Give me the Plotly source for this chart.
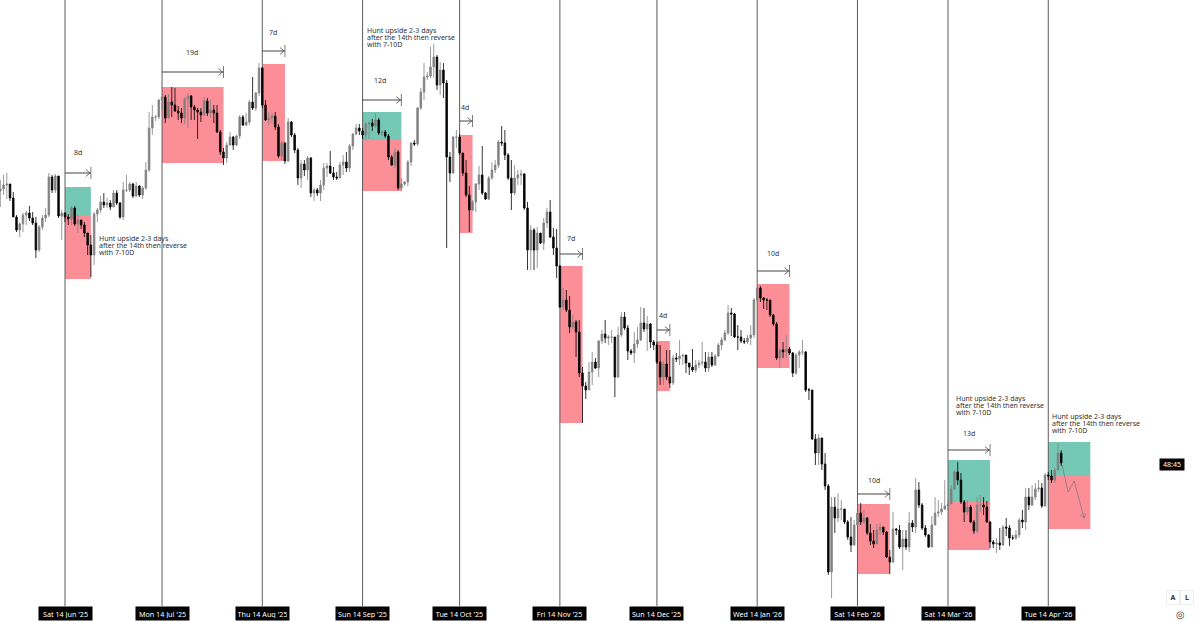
import pandas as pd
import plotly.graph_objects as go

first_day = "2025-05-25"

opens = [431,433,437,438,424,405,392,398,407,409,404,399,372,395,404,407,445,432,446,406,
         409,405,403,414,398,402,397,389,377,367,408,412,420,417,419,415,429,419,405,432,
         432,438,426,436,427,434,452,494,505,505,522,525,504,520,517,511,509,504,523,526,
         515,512,510,507,521,509,512,509,490,470,464,477,485,477,486,505,497,500,520,514,
         529,554,517,502,504,506,495,466,479,461,500,487,472,444,458,452,464,429,432,429,
         437,454,456,449,445,444,457,460,454,476,488,494,491,487,498,499,496,502,489,490,
         486,465,457,470,434,438,440,460,479,478,514,530,545,546,555,565,537,552,539,465,
         449,485,485,469,449,427,412,420,438,447,429,423,444,452,457,480,479,467,444,429,
         444,447,448,414,372,392,372,389,379,399,410,385,374,356,315,322,312,295,300,290,
         249,236,232,250,260,254,281,288,284,285,285,245,287,305,294,271,269,278,282,299,
         293,298,280,277,260,245,258,245,239,264,263,266,267,259,255,252,257,259,260,254,
         265,257,266,277,282,289,309,308,285,285,281,280,284,287,322,334,324,322,322,307,
         298,264,272,270,273,269,249,267,270,270,232,232,183,169,184,158,136,50,115,104,
         113,113,100,85,77,97,109,100,104,89,81,78,92,95,90,65,60,93,92,75,
         83,75,99,95,132,117,94,87,75,97,109,110,113,116,118,133,150,142,120,110,
         115,100,91,117,117,115,100,80,78,79,77,95,94,84,84,87,102,100,125,117,
         125,133,134,116,147,146,142,152,169]
closes = [433,437,438,424,405,392,398,407,409,404,399,372,395,404,407,445,432,446,406,409,
          405,403,414,398,402,397,389,377,367,408,412,420,417,419,415,429,419,405,432,432,
          438,426,436,427,434,452,494,505,505,522,525,504,520,517,511,509,504,523,526,515,
          512,510,507,521,509,512,509,490,470,464,477,485,477,486,505,497,500,520,514,529,
          554,517,502,504,506,495,466,479,461,500,487,472,444,458,452,464,429,432,429,437,
          454,456,449,445,444,457,460,454,476,488,494,491,487,498,499,496,502,489,490,486,
          465,457,470,434,438,440,460,479,478,514,530,545,546,555,565,537,552,539,465,449,
          485,485,469,449,427,412,420,438,447,429,423,444,452,457,480,479,467,444,429,444,
          447,448,414,372,392,372,389,379,399,410,385,374,356,315,322,312,295,300,290,249,
          236,232,250,260,254,281,288,284,285,285,245,287,305,294,271,269,278,282,299,293,
          298,280,277,260,245,258,245,239,264,263,266,267,259,255,252,257,259,260,254,265,
          257,266,277,282,289,309,308,285,285,281,280,284,287,322,334,324,322,322,307,298,
          264,272,270,273,269,249,267,270,270,232,232,183,169,184,158,136,50,115,104,113,
          113,100,85,77,97,109,100,104,89,81,78,92,95,90,65,60,93,92,75,83,
          75,99,95,132,117,94,87,75,97,109,110,113,116,118,133,150,142,120,110,115,
          100,91,117,117,115,100,80,78,79,77,95,94,84,84,87,102,100,125,117,125,
          133,134,116,147,146,142,152,169,159]
highs = [442,447,449,435,430,407,400,409,411,416,410,405,397,407,414,449,447,448,433,412,
         410,408,416,416,407,402,400,389,387,410,414,426,429,424,422,432,432,420,440,447,
         440,439,440,437,436,460,510,517,507,523,526,527,528,535,534,516,514,525,529,527,
         517,514,514,525,524,522,517,517,492,474,480,490,486,487,507,507,509,522,545,530,
         559,555,522,510,509,510,498,481,480,504,501,489,474,462,462,466,465,434,434,442,
         459,459,471,455,450,460,467,470,478,489,498,498,494,500,501,503,509,504,492,492,
         488,467,474,472,444,441,462,480,482,515,534,559,550,575,578,567,560,559,542,470,
         486,492,488,469,462,436,422,439,456,476,430,446,460,462,482,496,492,469,462,457,
         452,452,449,420,397,394,395,387,404,414,422,394,393,357,334,332,326,307,302,302,
         255,240,260,270,264,282,292,302,287,292,282,295,310,310,297,273,290,295,315,314,
         306,299,282,280,277,261,272,272,267,269,282,267,262,257,273,262,262,280,270,270,
         270,268,279,285,292,317,314,309,297,292,284,287,297,324,335,336,325,324,322,308,
         300,274,280,287,275,270,269,272,282,271,234,232,188,188,184,169,138,125,125,129,
         122,112,102,105,102,110,119,112,105,98,92,98,99,95,91,72,110,94,97,92,
         92,110,102,144,140,119,97,88,106,125,122,119,142,122,137,152,160,149,122,122,
         117,102,125,127,125,121,101,82,84,94,97,104,97,87,92,104,112,134,134,137,
         139,142,139,149,150,152,154,179,172]
lows = [415,427,423,421,405,390,385,390,397,401,397,364,370,392,400,405,429,429,404,382,
        400,397,397,396,389,393,385,367,345,357,400,409,414,414,412,420,417,403,402,430,
        430,424,425,425,423,432,450,487,501,503,512,499,504,505,510,502,499,498,494,502,
        502,483,500,507,506,504,499,489,467,457,459,476,472,476,483,496,496,497,512,511,
        526,514,501,497,498,492,464,462,458,460,485,469,437,434,446,442,425,421,426,421,
        432,445,448,442,442,444,447,450,450,472,487,487,483,482,483,491,494,487,486,484,
        462,456,454,432,431,436,436,456,476,476,512,522,542,544,544,532,527,524,374,440,
        448,474,467,446,425,390,411,410,432,427,422,422,442,449,454,476,462,442,412,427,
        437,437,412,352,352,352,354,378,372,394,384,367,344,314,312,310,289,292,265,245,
        199,223,232,237,253,245,278,279,277,279,225,244,285,292,262,267,259,274,281,290,
        271,274,272,258,237,237,242,234,237,260,257,257,249,247,250,249,254,256,250,250,
        255,256,265,272,281,287,286,284,272,279,278,278,277,284,320,320,313,312,305,296,
        262,254,264,264,267,245,247,254,267,230,222,182,157,157,152,132,47,24,89,100,
        102,98,82,70,76,96,97,98,87,77,74,82,87,87,64,48,59,87,73,52,
        72,70,90,89,114,92,85,74,75,97,105,107,112,112,119,132,137,118,100,107,
        99,88,89,110,107,99,74,74,69,72,76,86,76,82,82,84,94,92,112,116,
        122,130,114,115,142,139,139,152,156]

range_start = "2025-05-24 21:36"
range_end = "2026-05-30 14:24"

# each cycle starts on the 14th
cycle_starts = ["2025-06-14", "2025-07-14", "2025-08-14", "2025-09-14", "2025-10-14", "2025-11-14",
                "2025-12-14", "2026-01-14", "2026-02-14", "2026-03-14", "2026-04-14"]
cycle_labels = ["Sat 14 Jun '25", "Mon 14 Jul '25", "Thu 14 Aug '25", "Sun 14 Sep '25", "Tue 14 Oct '25",
                "Fri 14 Nov '25", "Sun 14 Dec '25", "Wed 14 Jan '26", "Sat 14 Feb '26", "Sat 14 Mar '26",
                "Tue 14 Apr '26"]
cycle_days = [8, 19, 7, 12, 4, 7, 4, 10, 10, 13, 13]
green_tops = [435, None, None, 510, None, None, None, None, None, 162, 180]
zone_mids = [407, 535, 558, 482, 487, 356, 281, 338, 118, 120, 146]
zone_bottoms = [343, 459, 461, 431, 389, 199, 231, 254, 48, 72, 93]
arrow_levels = [449, 550, 571, 522, 501, 368, 292, 351, 128, 172, None]
day_label_levels = [470, 570, 590, 542, 515, 384, 307, 369, 142, 189, None]
day_label_offsets = [0.5, 0.49, 0.47, 0.46, 0.4, 0.5, 0.45, 0.5, 0.5, 0.5, None]

note_lines = ["Hunt upside 2-3 days", "after the 14th then reverse", "with 7-10D"]
note_days = ["2025-06-23 18:00", "2025-09-14 18:00", "2026-03-16", "2026-04-14 12:00"]
note_levels = [384, 592, 224, 206]

path_days = ["2026-04-18 07:00", "2026-04-20 03:00", "2026-04-22 00:00", "2026-04-25 02:00"]
path_levels = [157, 130, 141, 104]

GREEN = "#76c8b6"
RED = "#fc8e98"
LINE = "#5c5c5c"
INK = "#333333"
TEXT_FONT = "Noto Sans"
DAY = pd.Timedelta(days=1)

days = pd.date_range(first_day, periods=len(closes), freq="D")

fig = go.Figure()
fig.add_trace(go.Candlestick(
    x=days, open=opens, high=highs, low=lows, close=closes,
    increasing=dict(line=dict(color="#808080", width=0.8), fillcolor="#808080"),
    decreasing=dict(line=dict(color="#000000", width=0.8), fillcolor="#000000"),
    whiskerwidth=0, hoverinfo="skip",
))

# projected path in the last cycle
fig.add_trace(go.Scatter(x=path_days, y=path_levels, mode="lines",
                         line=dict(color="#777777", width=0.7), hoverinfo="skip"))
fig.add_shape(type="path", xsizemode="pixel", ysizemode="pixel", xanchor=path_days[-1], yanchor=path_levels[-1],
              path="M -3.8 3.2 L 0 0 L 1.7 4.7", line=dict(color="#777777", width=0.7))

for i, start in enumerate(cycle_starts):
    t0 = pd.Timestamp(start)
    t1 = t0 + cycle_days[i] * DAY
    fig.add_shape(type="rect", x0=t0, x1=t1, y0=zone_bottoms[i], y1=zone_mids[i],
                  fillcolor=RED, line_width=0, layer="below")
    if green_tops[i] is not None:
        fig.add_shape(type="rect", x0=t0, x1=t1, y0=zone_mids[i], y1=green_tops[i],
                      fillcolor=GREEN, line_width=0, layer="below")
    fig.add_shape(type="line", x0=t0, x1=t0, y0=16, y1=622, line=dict(color=LINE, width=1), layer="below")
    fig.add_annotation(x=t0, y=9, text=cycle_labels[i], showarrow=False, bgcolor="#000000",
                       font=dict(family=TEXT_FONT, size=7.2, color="#ffffff"), borderpad=2, width=49, height=9)

    if arrow_levels[i] is None:
        continue
    level = arrow_levels[i]
    fig.add_shape(type="line", x0=t0, x1=t1, y0=level, y1=level, line=dict(color="#444444", width=1))
    fig.add_shape(type="line", x0=t1, x1=t1, y0=level - 6, y1=level + 6, line=dict(color="#444444", width=0.7))
    fig.add_shape(type="path", xsizemode="pixel", ysizemode="pixel", xanchor=t1, yanchor=level,
                  path="M -5 -3.5 L -1 0 L -5 3.5", line=dict(color="#444444", width=0.8))
    fig.add_annotation(x=t0 + cycle_days[i] * day_label_offsets[i] * DAY, y=day_label_levels[i],
                       text=f"{cycle_days[i]}d", showarrow=False,
                       font=dict(family=TEXT_FONT, size=7, color=INK))

for day, level in zip(note_days, note_levels):
    for n, line in enumerate(note_lines):
        fig.add_annotation(x=day, y=level - 7.3 * n, text=line, showarrow=False, xanchor="left", yanchor="middle",
                           font=dict(family=TEXT_FONT, size=7, color=INK))

# countdown badge and corner buttons
fig.add_annotation(x=1172 / 1199, y=158 / 622, xref="paper", yref="paper", text="48:45", showarrow=False,
                   xanchor="center", yanchor="middle", bgcolor="#000000",
                   font=dict(family=TEXT_FONT, size=7, color="#ffffff"), borderpad=1, width=22, height=9)
for label, px in [("A", 1173), ("L", 1187)]:
    fig.add_annotation(x=px / 1199, y=25 / 622, xref="paper", yref="paper", text=f"<b>{label}</b>", showarrow=False,
                       xanchor="center", yanchor="middle", font=dict(family=TEXT_FONT, size=7, color="#333333"),
                       bgcolor="#ffffff", bordercolor="#eeeeee", borderwidth=1, borderpad=2, width=8, height=9)
fig.add_annotation(x=1180 / 1199, y=8 / 622, xref="paper", yref="paper", text="◎", showarrow=False,
                   xanchor="center", yanchor="middle", font=dict(family="DejaVu Sans", size=10, color="#444444"))

fig.update_layout(
    width=1199, height=622, margin=dict(l=0, r=0, t=0, b=0),
    paper_bgcolor="#ffffff", plot_bgcolor="#ffffff", showlegend=False,
    xaxis=dict(range=[range_start, range_end], visible=False, rangeslider=dict(visible=False), fixedrange=True),
    yaxis=dict(range=[0, 622], visible=False, fixedrange=True),
)

fig.write_html("out.html", config=dict(displayModeBar=False),
               post_script="document.body.style.margin='0';document.documentElement.style.overflow='hidden';")
